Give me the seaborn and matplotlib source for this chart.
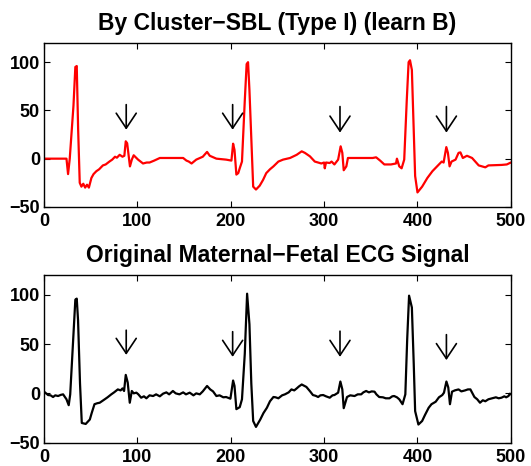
import matplotlib
matplotlib.use("Agg")
import matplotlib.pyplot as plt
import seaborn as sns
import pandas as pd

# values (sample index, amplitude)
red_x = [0, 24, 25.7, 27.5, 31.5, 33.5, 35, 36.5, 38.2, 40, 42, 44, 46, 48, 50.7, 53, 56, 59, 63, 66,
         70, 73, 76, 78, 81, 84, 86, 87.5, 89, 92, 94, 96, 100.7, 106, 110, 113, 118, 124, 149, 152.5,
         155, 158, 163, 170, 174.6, 177.5, 184.6, 195, 200.7, 202.5, 204, 206, 208, 209.6, 212, 215, 217,
         218.5, 220, 222, 224, 227, 231, 234.6, 238, 242, 245.7, 251, 256, 263.5, 270.6, 276, 279.4,
         284.8, 290, 297, 300, 300.7, 302, 306, 308, 311, 315, 317.7, 319.5, 321, 323.8, 325.5, 352,
         355.7, 360, 364.5, 371.6, 377, 378, 380.5, 383, 385.8, 388.5, 390.5, 392, 394, 396, 397.5, 400,
         405, 410.6, 416, 421, 426, 428, 430.9, 432.6, 434.4, 436.5, 440.8, 444, 446, 448.6, 453, 458.5,
         465.6, 472.7, 476, 490, 495.7, 499, 500]
red_y = [0, 0, -16, 0, 55, 95, 96, 30, -25, -29, -26, -30, -27, -30, -20, -16, -13, -11, -7, -6,
         -3, -1, 2, 1, 4, 2, 3, 18, 16, -8, -1, 3.5, -1, -5, -4, -4, -2, 0.7, 0.7, -2,
         -3, -5, -1, 2, 7, 3, 0, -1, -2, 15.5, 9, -16.5, -15, -10, -3, 60, 98,
         100, 71, 20, -29, -32, -28, -22, -15, -11, -8, -3, -1, 0.7, 4, 7.6, 6,
         2.4, -3, -5, -4, -10, -4, -4.5, -3, -6, -1, 12.8, 6, -12, -8, 0.7, 0.7,
         1.4, -2, -6, -6, -5, 0, -8, -10, -1, 60, 100, 102, 92, 30, -18, -35,
         -29, -20, -13, -8, -3, -4, 12, 6, -8, -3, -1, 6, 6.5, 0.7, 3, 0.7,
         -7, -9, -7, -6.5, -6, -4.5, -4]

black_x = [0, 4.3, 7, 9.6, 12, 15, 18, 20.4, 24, 26.4, 28, 31.5, 33.5, 35, 36.4, 38.5, 40.4, 44.6, 49,
           51, 54, 57, 59.6, 62, 65, 68, 72, 75, 79, 82, 84, 85.7, 87.5, 89.6, 91.8, 94, 96, 98.9,
           101, 104, 107, 109.6, 113, 116.8, 120, 124, 127.5, 131, 134, 138, 141, 145, 149, 152, 156,
           160, 163, 166.8, 170, 174.6, 178, 181, 184.6, 188, 192, 195, 199.6, 202.5, 204, 206, 209.6,
           212, 215, 217.5, 220, 222, 224, 227, 231.6, 235, 238.7, 242, 245.7, 248, 251, 255, 258,
           262, 265, 268, 270.6, 273, 276, 278, 281, 285, 288, 291, 293.6, 296, 299, 302, 306, 309,
           311, 315, 317.4, 319.5, 321, 324.5, 328, 332.6, 336, 339.7, 342, 345, 348, 351, 354, 356,
           359, 363, 366, 370, 373, 375, 378, 380.5, 384, 387, 389, 391, 394, 396, 397.5, 401, 405,
           408, 412, 415, 419.5, 423, 426.6, 428.4, 431, 433, 434.8, 437, 440, 444, 447, 451, 454,
           456.7, 461, 464, 467, 470, 472.7, 476, 480, 484, 487, 490, 493, 495, 497.5, 499, 500]
black_y = [1.7, -1.7, -2, -3.7, -2, -2.7, -1.5, -1, -6, -12, -1, 60, 95, 96, 74, 10, -30, -31, -26.5,
           -20, -11, -10, -9.5, -8, -6, -4, -1, 1, 4, 3, 5, 2.4, 18.7, 11, -9.5, 2.4, 0, 0.7,
           -1, -4.4, -3, -5, -2, -2.7, -1, -3, -0.3, 1, -1, 2.4, 0, -1, 1, -1, 0.7,
           -2, 0, -1, 2, 7.5, 4, 2, -2.7, -2, -4, -3.7, -5.4, 13, 7.5, -16, -14,
           -6, 40, 101, 70, 10, -28, -34, -26.5, -20, -14.6, -8, -3.7, -4, -5, -2, -1,
           1, 4, 3, 5, 7, 9, 8, 6.5, 2, -1.7, -2.5, -3.7, -2, -1.7, -3, -4.4, -2,
           -1.7, 0.7, 12, 4, -15, -3.7, -2, -2.7, -1, -1, 1, 2.4, 1, 2, 1.7, -1,
           -3.7, -4, -5, -5, -3, -2.7, -4, -6, -11, -1, 55, 99, 87, 30, -18, -31.6, -28,
           -22, -14.6, -11, -8.5, -4, -1.7, 0.7, 12, 6, -11, 1.7, 3, 4, 2, 3, 4,
           4, -3.7, -6, -9.5, -7, -8, -6, -5, -4, -5, -4.4, -3, -4, -2.7, -0.3, -1]

arrow_x = [88, 202, 317, 431]
red_arrow_top = [56, 56, 54, 54]
red_arrow_tip = [30, 30, 27, 27]
black_arrow_top = [64, 62.5, 63, 59.5]
black_arrow_tip = [39, 37, 37, 33.7]

titles = ["By Cluster\u2212SBL (Type I) (learn B)", "Original Maternal\u2212Fetal ECG Signal"]
x_ticks = [0, 100, 200, 300, 400, 500]
y_ticks = [-50, 0, 50, 100]

sns.set_theme(style="ticks")
plt.rcParams['font.family'] = ['Liberation Sans', 'DejaVu Sans']
plt.rcParams['font.weight'] = 'bold'
plt.rcParams['text.color'] = 'black'
plt.rcParams['xtick.color'] = 'black'
plt.rcParams['ytick.color'] = 'black'

fig = plt.figure(figsize=(5.31, 4.66), dpi=100)
ax1 = fig.add_axes([0.083, 0.556, 0.879, 0.352])
ax2 = fig.add_axes([0.083, 0.050, 0.879, 0.360])

panels = [
    (red_x, red_y, "#ff0000", red_arrow_top, red_arrow_tip),
    (black_x, black_y, "black", black_arrow_top, black_arrow_tip),
]

for ax, (xs, ys, col, tops, tips), title in zip([ax1, ax2], panels, titles):
    df = pd.DataFrame({"n": xs, "amp": ys})
    sns.lineplot(data=df, x="n", y="amp", ax=ax, color=col, lw=1.6, sort=False)
    for xa, t0, t1 in zip(arrow_x, tops, tips):
        ax.annotate("", xy=(xa, t1), xytext=(xa, t0),
                    arrowprops=dict(arrowstyle="->,head_width=0.4,head_length=0.6",
                                    color="black", lw=1.2, mutation_scale=18,
                                    shrinkA=0, shrinkB=0))
    ax.set_xlim(0, 500)
    ax.set_ylim(-50, 120)
    ax.set_xticks(x_ticks)
    ax.set_yticks(y_ticks)
    ax.set_xlabel("")
    ax.set_ylabel("")
    ax.set_title(title, fontsize=16.5, fontweight="bold", color="black", pad=9)
    ax.tick_params(direction="in", top=True, right=True, labelsize=13, length=4, width=0.8)
    ax.tick_params(axis="x", pad=4.5)
    ax.tick_params(axis="y", pad=3)
    for lab in ax.get_xticklabels() + ax.get_yticklabels():
        lab.set_fontweight("bold")
    for sp in ax.spines.values():
        sp.set_visible(True)
        sp.set_linewidth(1.0)
        sp.set_color("black")

fig.savefig("out.png", dpi=100)
